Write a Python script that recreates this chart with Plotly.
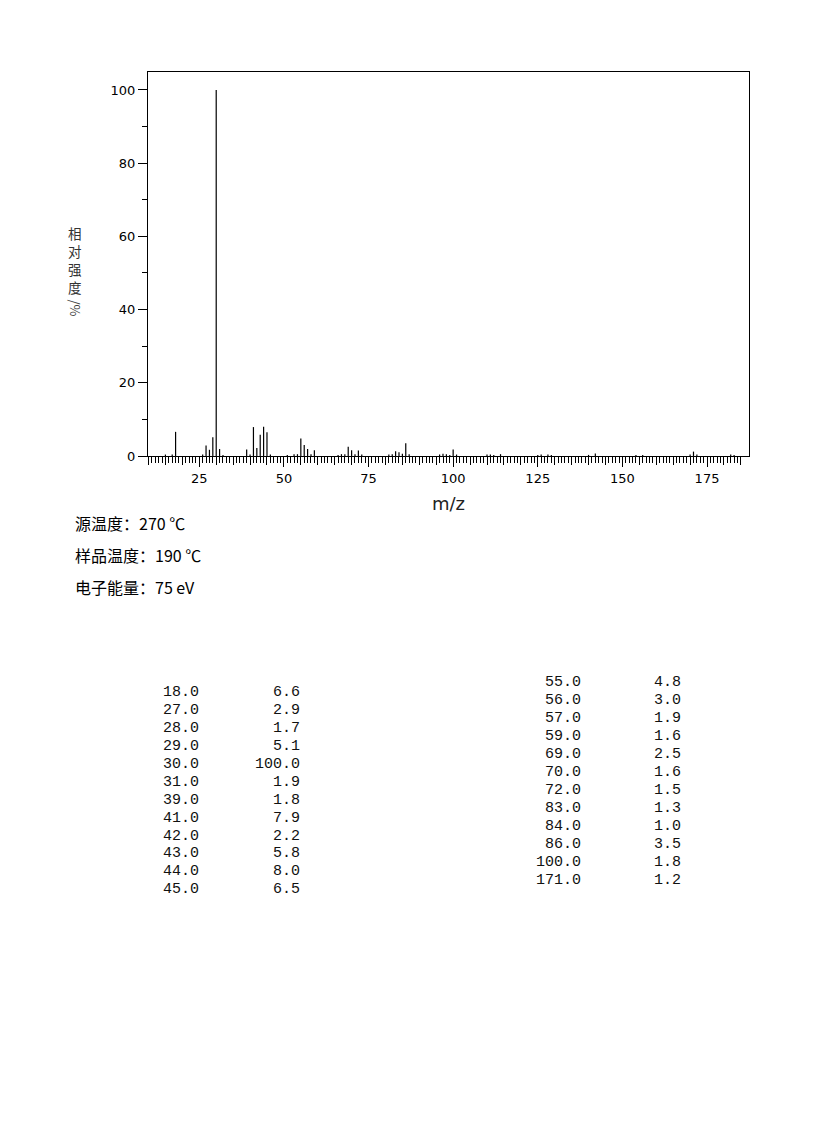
import plotly.graph_objects as go

# peaks listed in the table (m/z, relative intensity %)
table_mz = [18.0, 27.0, 28.0, 29.0, 30.0, 31.0, 39.0, 41.0, 42.0, 43.0, 44.0, 45.0,
            55.0, 56.0, 57.0, 59.0, 69.0, 70.0, 72.0, 83.0, 84.0, 86.0, 100.0, 171.0]
table_int = [6.6, 2.9, 1.7, 5.1, 100.0, 1.9, 1.8, 7.9, 2.2, 5.8, 8.0, 6.5,
             4.8, 3.0, 1.9, 1.6, 2.5, 1.6, 1.5, 1.3, 1.0, 3.5, 1.8, 1.2]

# small peaks only seen in the spectrum
minor_mz = [15, 17, 26, 32, 40, 46, 51, 53, 54, 58, 66, 67, 68, 71, 73, 81, 82, 85, 87,
            96, 97, 98, 99, 101, 110, 111, 112, 114, 125, 126, 128, 129, 140, 142,
            154, 156, 170, 172, 182, 183]
minor_int = [0.4, 0.4, 0.4, 0.3, 0.4, 0.4, 0.3, 0.5, 0.5, 0.5, 0.3, 0.5, 0.5, 0.5, 0.4, 0.4, 0.5, 0.6, 0.5,
             0.4, 0.6, 0.5, 0.3, 0.4, 0.4, 0.4, 0.3, 0.5, 0.3, 0.4, 0.4, 0.3, 0.3, 0.7,
             0.3, 0.3, 0.4, 0.4, 0.4, 0.3]

y_title_chars = ["相", "对", "强", "度"]
y_title_unit = "/%"
info_lines = ["源温度：270 ℃", "样品温度：190 ℃", "电子能量：75 eV"]

# page has an 8px body margin, so the figure is shrunk and shifted to match
OFF = 8
W, H = 822 - 2 * OFF, 1134 - 2 * OFF
# plot area in page pixels
L, R, T, B = 148, 749, 72, 456


def px(x):
    return (x - L) / (R - L)


def py(y):
    return (B - y) / (B - T)


all_mz = table_mz + minor_mz
all_int = table_int + minor_int
xs, ys = [], []
for m, v in zip(all_mz, all_int):
    xs += [m, m, None]
    ys += [0, v, None]

fig = go.Figure()
fig.add_trace(go.Scatter(x=xs, y=ys, mode="lines", line=dict(color="black", width=1.2),
                         hoverinfo="skip", showlegend=False))
# dummy trace so the 5-unit tick axis gets drawn
fig.add_trace(go.Scatter(x=[table_mz[0]], y=[0], xaxis="x2", mode="markers",
                         marker=dict(opacity=0), hoverinfo="skip", showlegend=False))

xr = [9.85, 187.4]
fig.update_layout(
    width=W, height=H,
    margin=dict(l=L - OFF, r=W - (R - OFF), t=T - OFF, b=H - (B - OFF)),
    paper_bgcolor="white", plot_bgcolor="white",
    font=dict(family="DejaVu Sans", size=13, color="black"),
    xaxis=dict(range=xr, tick0=0, dtick=25, ticks="outside", ticklen=10, tickcolor="black",
               showline=True, mirror=True, linecolor="black", linewidth=1,
               showgrid=False, zeroline=False,
               minor=dict(tickmode="array", tickvals=list(range(10, 186)), ticks="outside",
                          ticklen=6, tickcolor="black", showgrid=False),
               title=dict(text="m/z", font=dict(size=18, color="#222"), standoff=12)),
    xaxis2=dict(range=xr, overlaying="x", anchor="y", side="bottom", tick0=0, dtick=5,
                ticks="outside", ticklen=8, tickcolor="black", showticklabels=False,
                showline=False, showgrid=False, zeroline=False),
    yaxis=dict(range=[0, 104.9], tick0=0, dtick=20, ticks="outside", ticklen=9, tickcolor="black",
               showline=True, mirror=True, linecolor="black", linewidth=1,
               showgrid=False, zeroline=False,
               minor=dict(dtick=10, ticks="outside", ticklen=5, tickcolor="black", showgrid=False)),
)

ann = []
# vertical y-axis title, one character per row
cjk = dict(family="Noto Sans CJK SC", size=13.5, color="#333")
for k, ch in enumerate(y_title_chars):
    ann.append(dict(x=px(75), y=py(233 + 18 * k), xref="paper", yref="paper", text=ch,
                    showarrow=False, font=cjk, xanchor="center", yanchor="middle"))
ann.append(dict(x=px(75), y=py(307.5), xref="paper", yref="paper", text=y_title_unit, textangle=90,
                showarrow=False, font=dict(family="Noto Sans CJK SC", size=13, color="#444"),
                xanchor="center", yanchor="middle"))

for i, line in enumerate(info_lines):
    ann.append(dict(x=px(73), y=py(523 + 32 * i), xref="paper", yref="paper", text=line,
                    showarrow=False, font=dict(family="Noto Sans CJK SC", size=16, color="black"),
                    xanchor="left", yanchor="middle"))

mono = dict(family="Liberation Mono", size=15, color="#111")
half = len(table_mz) // 2
cols = [(table_mz[:half], table_int[:half], 201, 302, 692),
        (table_mz[half:], table_int[half:], 583, 683, 682)]
for mzs, ints, xm, xi, y0 in cols:
    for j, (m, v) in enumerate(zip(mzs, ints)):
        yy = py(y0 + 18 * j)
        ann.append(dict(x=px(xm), y=yy, xref="paper", yref="paper", text=f"{m:.1f}",
                        showarrow=False, font=mono, xanchor="right", yanchor="middle"))
        ann.append(dict(x=px(xi), y=yy, xref="paper", yref="paper", text=f"{v:.1f}",
                        showarrow=False, font=mono, xanchor="right", yanchor="middle"))

fig.update_layout(annotations=ann)
fig.write_html("out.html")
